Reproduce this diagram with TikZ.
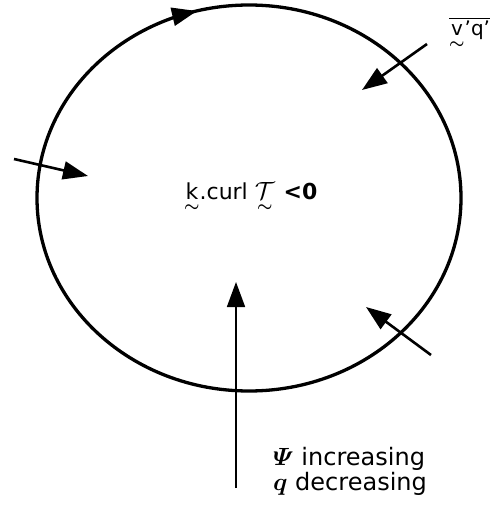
\documentclass[tikz,border=0pt]{standalone}
\usepackage{amsmath}
\usepackage{fontspec}
\setmainfont{DejaVu Sans}
\usetikzlibrary{arrows.meta}
\newcommand\utl[1]{\ensuremath{\underset{\text{\fontsize{17}{17}\selectfont$\boldsymbol{\sim}$}}{\text{#1}}}}
\begin{document}
\begin{tikzpicture}[x=1pt,y=-1pt,
  bigtip/.style={-{Triangle[length=25pt,width=18pt]}},
  flux/.style={bigtip,line width=2.6pt},
  lbl/.style={inner sep=0pt,anchor=base west}]
\useasboundingbox (0,0) rectangle (493,511);
% circulation
\draw[line width=3.3pt] (249,198) ellipse [x radius=212pt, y radius=193pt];
\coordinate (c1) at (174.5,16.3);
\coordinate (c2) at (197,11.0);
\draw[bigtip,line width=3.3pt] (c1) -- (c2);
% eddy flux arrows
\coordinate (l0) at (14,159);
\coordinate (l1) at (88,176);
\draw[flux] (l0) -- (l1);
\coordinate (r0) at (427,44);
\coordinate (r1) at (362,90);
\draw[flux] (r0) -- (r1);
\coordinate (b0) at (431,355);
\coordinate (b1) at (366,307);
\draw[flux] (b0) -- (b1);
\coordinate (v0) at (236,488);
\coordinate (v1) at (236,282);
\draw[bigtip,line width=1.8pt] (v0) -- (v1);
% labels
\node[lbl,font=\fontsize{22}{26}\selectfont] (curl) at (184,199)
  {\utl{k}.curl\hspace{7pt}\utl{\fontsize{30}{30}\selectfont$\mathcal{T}$}\hspace{9pt}\textbf{<0}};
\node[lbl,font=\fontsize{20}{24}\selectfont] (vq) at (449,36)
  {$\overline{\text{\utl{v}'q'}}$};
\node[lbl,font=\fontsize{24}{28}\selectfont] (psi) at (273,465)
  {{\fontsize{26}{26}\selectfont$\boldsymbol{\varPsi}$} increasing};
\node[lbl,font=\fontsize{24}{28}\selectfont] (q) at (273,490)
  {{\fontsize{28}{28}\selectfont$\boldsymbol{q}$} decreasing};
\end{tikzpicture}
\end{document}
